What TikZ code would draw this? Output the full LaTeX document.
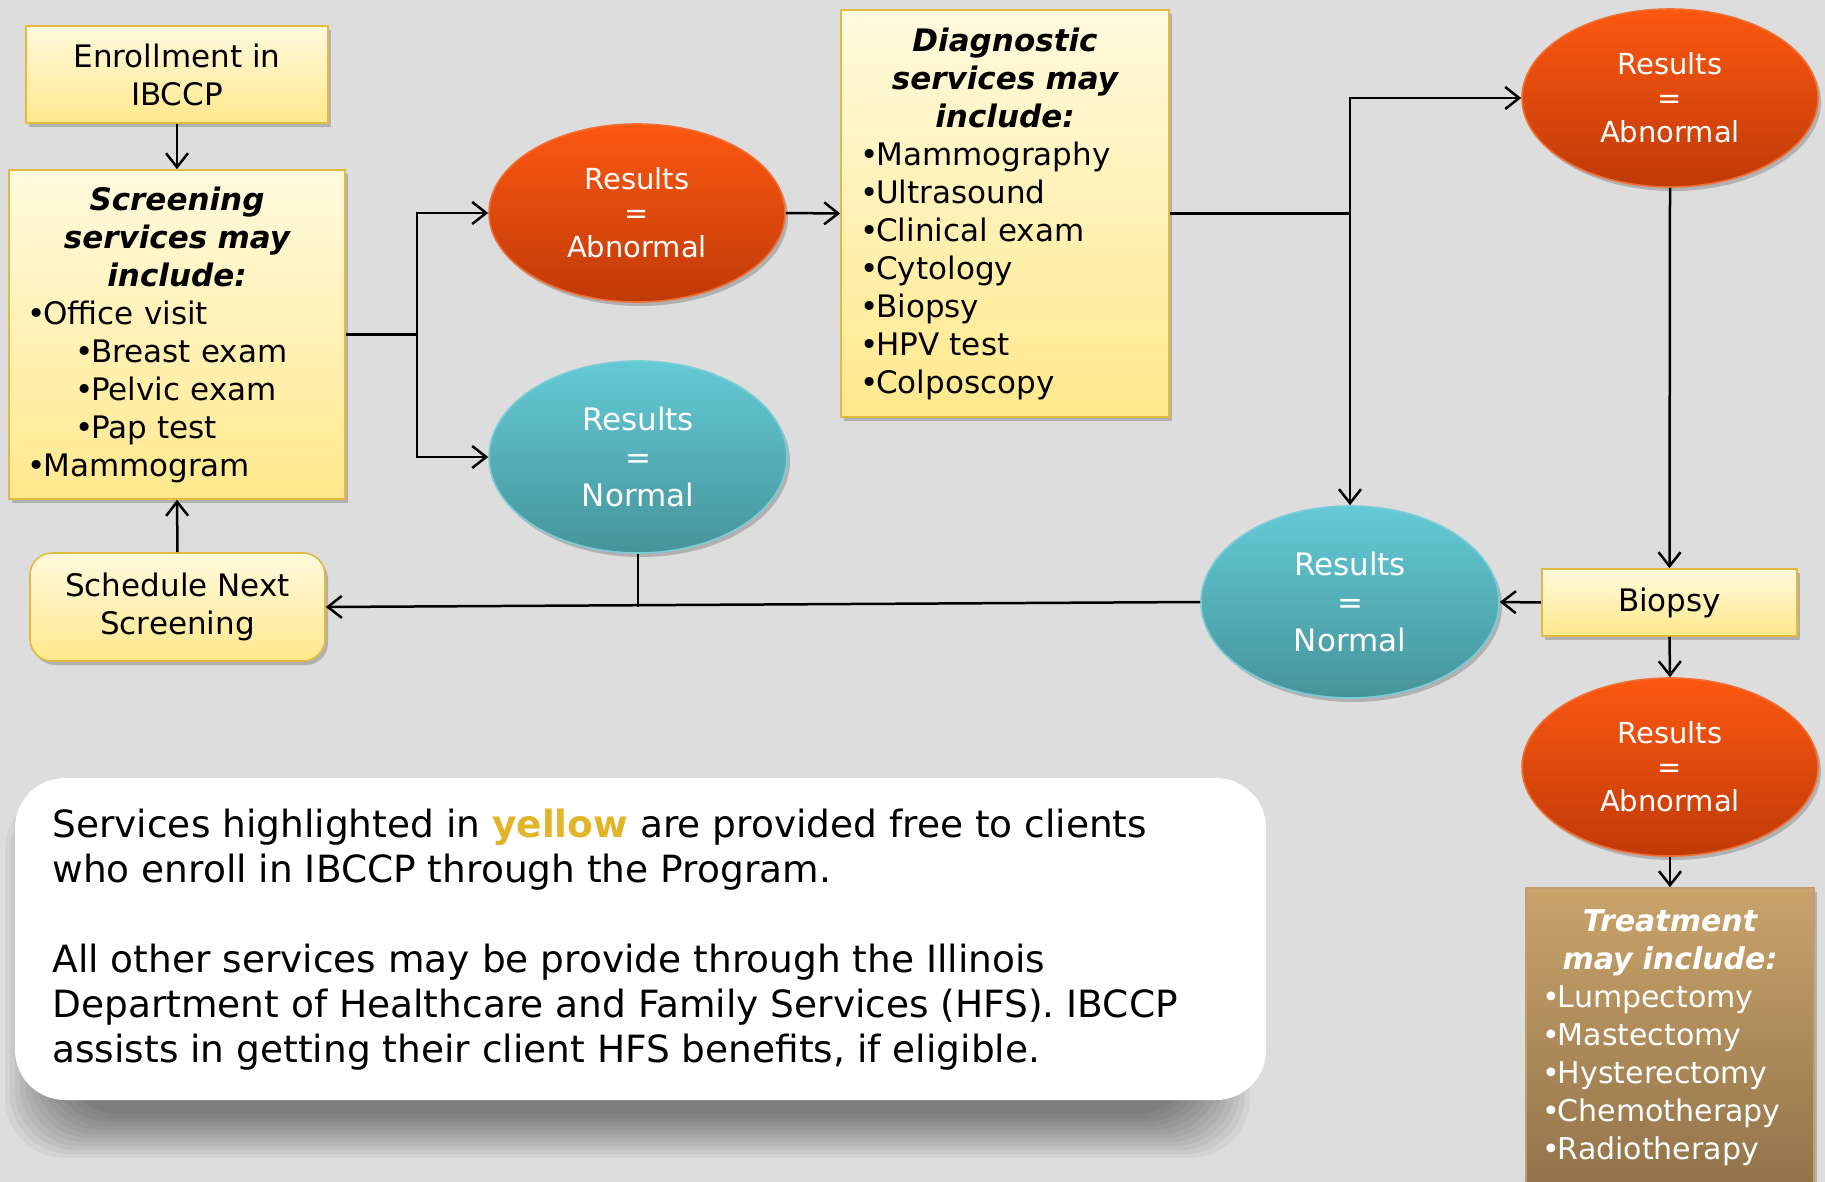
\documentclass[tikz,border=0pt]{standalone}
\usepackage{fontspec}
\setmainfont{DejaVu Sans}
\usetikzlibrary{shapes.geometric,arrows.meta,shadows}
\definecolor{bgc}{RGB}{221,221,221}
\definecolor{ytop}{RGB}{255,250,222}
\definecolor{ybot}{RGB}{255,232,140}
\definecolor{yedge}{RGB}{226,186,64}
\definecolor{otop}{RGB}{252,88,16}
\definecolor{obot}{RGB}{192,58,8}
\definecolor{oedge}{RGB}{240,110,50}
\definecolor{ttop}{RGB}{100,202,214}
\definecolor{tbot}{RGB}{70,148,154}
\definecolor{tedge}{RGB}{120,205,215}
\definecolor{btop}{RGB}{201,163,106}
\definecolor{bbot}{RGB}{146,115,74}
\definecolor{bedge}{RGB}{190,158,110}
\definecolor{ygold}{RGB}{226,180,40}
\newcommand{\hdline}[2]{\makebox[#1][c]{\bfseries\itshape #2}}
\newcommand{\bul}{\makebox[0.46em][l]{\hspace*{-0.05em}•}}
\begin{document}
\begin{tikzpicture}[x=0.5pt,y=-0.5pt,
  shad/.style={drop shadow={shadow xshift=1.5pt,shadow yshift=-2pt,opacity=0.3,fill=black!70}},
  ybox/.style={rectangle, draw=yedge, line width=0.8pt, top color=ytop, bottom color=ybot, shad, inner sep=0pt, font=\fontsize{15.5pt}{19pt}\selectfont},
  bbox/.style={rectangle, draw=bedge, line width=0.8pt, top color=btop, bottom color=bbot, shad, inner sep=0pt, text=white, font=\fontsize{15pt}{19pt}\selectfont},
  oell/.style={ellipse, draw=oedge, line width=0.8pt, top color=otop, bottom color=obot, shad, inner sep=0pt, minimum width=148pt, minimum height=89pt, text=white, align=center, font=\fontsize{14.5pt}{17pt}\selectfont},
  tell/.style={ellipse, draw=tedge, line width=0.8pt, top color=ttop, bottom color=tbot, shad, inner sep=0pt, minimum width=149pt, minimum height=96pt, text=white, align=center, font=\fontsize{15.5pt}{19pt}\selectfont},
  conn/.style={line width=1.25pt, black},
  arr/.style={conn, -{Straight Barb[length=7pt,width=11pt]}}
]
\useasboundingbox (0,0) rectangle (1825,1182);
\clip (0,0) rectangle (1825,1182);
\fill[bgc] (0,0) rectangle (1825,1182);

% shadow of the note box
\foreach \i in {0,...,11}
  \fill[black, opacity=0.045, rounded corners=30pt] (5+\i*5, 790+\i*2) rectangle (1250-\i*5, 1158-\i*4);
\node[fill=white, rounded corners=25pt, minimum width=625.5pt, minimum height=161pt, inner sep=0pt] (note) at (640.5,939) {};
\node[anchor=west, align=left, inner sep=0pt, font=\fontsize{18.75pt}{22.5pt}\selectfont] (notetxt) at (52,940)
 {Services highlighted in {\bfseries\color{ygold}yellow} are provided free to clients\\
  who enroll in IBCCP through the Program.\\[22.5pt]
  All other services may be provide through the Illinois\\
  Department of Healthcare and Family Services (HFS). IBCCP\\
  assists in getting their client HFS benefits, if eligible.};

% boxes
\node[ybox, minimum width=151pt, minimum height=48.5pt, align=center] (enroll) at (177,74.5) {Enrollment in\\IBCCP};
\node[ybox, minimum width=168pt, minimum height=164.5pt, text width=148pt, align=left] (scr) at (177,334.5)
 {\hdline{148pt}{Screening}\\
  \hdline{148pt}{services may}\\
  \hdline{148pt}{include:}\\
  \bul Office visit\\
  \hspace*{24pt}\bul Breast exam\\
  \hspace*{24pt}\bul Pelvic exam\\
  \hspace*{24pt}\bul Pap test\\
  \bul Mammogram};
\node[ybox, rounded corners=11pt, minimum width=147.5pt, minimum height=54pt, align=center] (sched) at (177.5,607) {Schedule Next\\Screening};
\node[ybox, minimum width=164pt, minimum height=203.5pt, text width=143pt, align=left] (diag) at (1005,213.5)
 {\hdline{143pt}{Diagnostic}\\
  \hdline{143pt}{services may}\\
  \hdline{143pt}{include:}\\
  \bul Mammography\\
  \bul Ultrasound\\
  \bul Clinical exam\\
  \bul Cytology\\
  \bul Biopsy\\
  \bul HPV test\\
  \bul Colposcopy};
\node[ybox, minimum width=127.5pt, minimum height=33.5pt] (biopsy) at (1669.5,602.5) {Biopsy};
\node[bbox, minimum width=144pt, minimum height=150pt, text width=126pt, align=left] (treat) at (1670,1038)
 {\hdline{126pt}{Treatment}\\
  \hdline{126pt}{may include:}\\
  \bul Lumpectomy\\
  \bul Mastectomy\\
  \bul Hysterectomy\\
  \bul Chemotherapy\\
  \bul Radiotherapy};

% ellipses
\node[oell] (ab1) at (637,213) {Results\\=\\Abnormal};
\node[tell] (no1) at (638,457) {Results\\=\\Normal};
\node[oell] (ab2) at (1670,98) {Results\\=\\Abnormal};
\node[tell] (no2) at (1350,602) {Results\\=\\Normal};
\node[oell] (ab3) at (1670,767) {Results\\=\\Abnormal};

% connectors
\draw[arr] (enroll) -- (scr);
\coordinate (j1) at (417,334.5);
\draw[conn] (scr.east) -- (j1);
\draw[arr] (j1) |- (ab1.west);
\draw[arr] (j1) |- (no1.west);
\draw[arr] (ab1.east) -- (diag.west);
\coordinate (j2) at (diag.east -| no2.north);
\draw[conn] (diag.east) -- (j2);
\draw[arr] (j2) |- (ab2.west);
\draw[arr] (j2) -- (no2.north);
\draw[arr] (ab2.south) -- (biopsy.north);
\draw[arr] (biopsy.west) -- (no2.east);
\draw[arr] (biopsy.south) -- (ab3.north);
\draw[arr] (ab3.south) -- (treat.north);
\draw[arr] (no2.west) -- (sched.east);
\coordinate (j3) at (no1.south |- sched.east);
\draw[conn] (no1.south) -- (j3);
\draw[arr] (sched.north) -- (scr.south);
\end{tikzpicture}
\end{document}
